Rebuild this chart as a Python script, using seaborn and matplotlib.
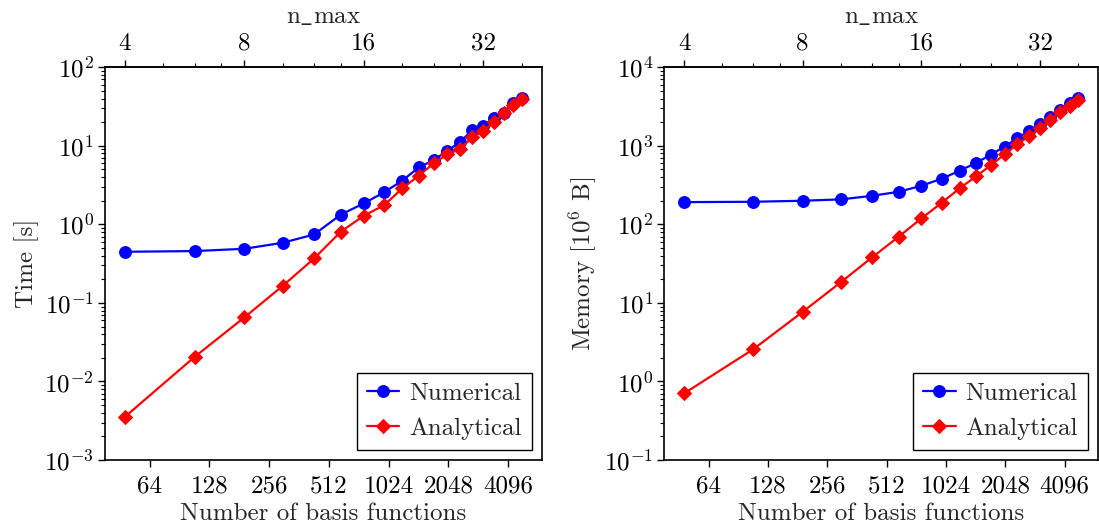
import numpy as np
import pandas as pd
import matplotlib
matplotlib.use("Agg")
import matplotlib.pyplot as plt
import matplotlib.ticker as mticker
import seaborn as sns

# data
n_max = [4, 6, 8, 10, 12, 14, 16, 18, 20, 22, 24, 26, 28, 30, 32, 34, 36, 38, 40]
basis = [48, 108, 192, 300, 432, 588, 768, 972, 1200, 1452, 1728, 2028,
         2352, 2700, 3072, 3468, 3888, 4332, 4800]

time_numerical = [0.448, 0.457, 0.489, 0.583, 0.745, 1.33, 1.85, 2.56, 3.6, 5.3,
                  6.6, 8.6, 11.3, 15.7, 17.9, 22.4, 26.4, 34.8, 40.3]
time_analytical = [0.00354, 0.0206, 0.0653, 0.165, 0.369, 0.805, 1.29, 1.75, 2.87,
                   4.16, 5.98, 7.8, 9.1, 12.8, 15.4, 19.9, 25.9, 33.1, 39.0]

mem_numerical = [192, 194, 200, 208, 231, 260, 310, 381, 482, 604, 771, 975,
                 1247, 1543, 1896, 2350, 2860, 3479, 4100]
mem_analytical = [0.703, 2.58, 7.7, 18.4, 38.0, 69.5, 119, 188, 287, 409, 565,
                  780, 1045, 1333, 1671, 2131, 2698, 3215, 3830]

bottom_ticks = [64, 128, 256, 512, 1024, 2048, 4096]
top_ticks = [4, 8, 16, 32]
top_minor = [5, 6, 7, 10, 12, 14, 20, 24, 28, 40]

FS = 18

sns.set_theme(style="ticks")
plt.rcParams["font.family"] = ["cmr10", "DejaVu Serif"]
plt.rcParams["mathtext.fontset"] = "cm"
plt.rcParams["axes.formatter.use_mathtext"] = True
plt.rcParams["font.size"] = FS
plt.rcParams["axes.edgecolor"] = "black"
plt.rcParams["axes.linewidth"] = 1.2
for a in ("xtick", "ytick"):
    plt.rcParams[f"{a}.color"] = "black"
    plt.rcParams[f"{a}.major.size"] = 5
    plt.rcParams[f"{a}.minor.size"] = 3
    plt.rcParams[f"{a}.major.width"] = 1.0
    plt.rcParams[f"{a}.minor.width"] = 0.8
    plt.rcParams[f"{a}.labelsize"] = FS

W, H = 1099, 529
fig = plt.figure(figsize=(W / 100, H / 100), dpi=100)
ax_t = fig.add_axes([105 / W, 1 - 460 / H, 436.5 / W, 392.7 / H])
ax_m = fig.add_axes([664.3 / W, 1 - 460 / H, 433.7 / W, 392.7 / H])

panels = [
    (ax_t, time_numerical, time_analytical, "Time [s]", (1e-3, 1e2)),
    (ax_m, mem_numerical, mem_analytical, r"Memory [$10^6$ B]", (1e-1, 1e4)),
]

for ax, num, ana, ylabel, ylim in panels:
    df = pd.DataFrame({"N": basis * 2,
                       "y": num + ana,
                       "method": ["Numerical"] * len(basis) + ["Analytical"] * len(basis)})
    for name, color, marker, ms in [("Numerical", "blue", "o", 8.5), ("Analytical", "red", "D", 7)]:
        sns.lineplot(data=df[df.method == name], x="N", y="y", ax=ax, color=color,
                     marker=marker, markersize=ms, markeredgecolor=color,
                     linewidth=1.6, label=name)
    ax.set_xscale("log", base=2)
    ax.set_yscale("log")
    ax.set_ylim(*ylim)
    ax.set_xticks(bottom_ticks, labels=[str(t) for t in bottom_ticks])
    ax.xaxis.set_minor_locator(mticker.LogLocator(base=2, subs=(1.2, 1.4, 1.6, 1.8)))
    ax.xaxis.set_minor_formatter(mticker.NullFormatter())
    ax.yaxis.set_minor_locator(mticker.LogLocator(base=10, subs=np.arange(2, 10), numticks=20))
    ax.yaxis.set_minor_formatter(mticker.NullFormatter())
    ax.set_xlabel("Number of basis functions", fontsize=FS, labelpad=4)
    ax.set_ylabel(ylabel, fontsize=FS, labelpad=4)
    for s in ax.spines.values():
        s.set_visible(True)
    ax.tick_params(which="both", top=False, right=False, direction="out", pad=3)
    ax.tick_params(axis="x", pad=6)

    sec = ax.secondary_xaxis("top", functions=(lambda N: np.sqrt(np.maximum(N, 1e-12) / 3),
                                                lambda n: 3 * n ** 2))
    sec.set_xticks(top_ticks, labels=[str(t) for t in top_ticks])
    sec.xaxis.set_minor_locator(mticker.FixedLocator(top_minor))
    sec.xaxis.set_minor_formatter(mticker.NullFormatter())
    sec.tick_params(which="both", direction="out", pad=4)
    sec.set_xlabel(r"n$\_$max", fontsize=FS, labelpad=7)

    leg = ax.legend(loc="lower right", fancybox=False, edgecolor="black", framealpha=1,
                    fontsize=FS, borderaxespad=0.4, handlelength=1.3,
                    handletextpad=0.4, borderpad=0.4)
    leg.get_frame().set_linewidth(1.0)

fig.savefig("out.png", dpi=100)
